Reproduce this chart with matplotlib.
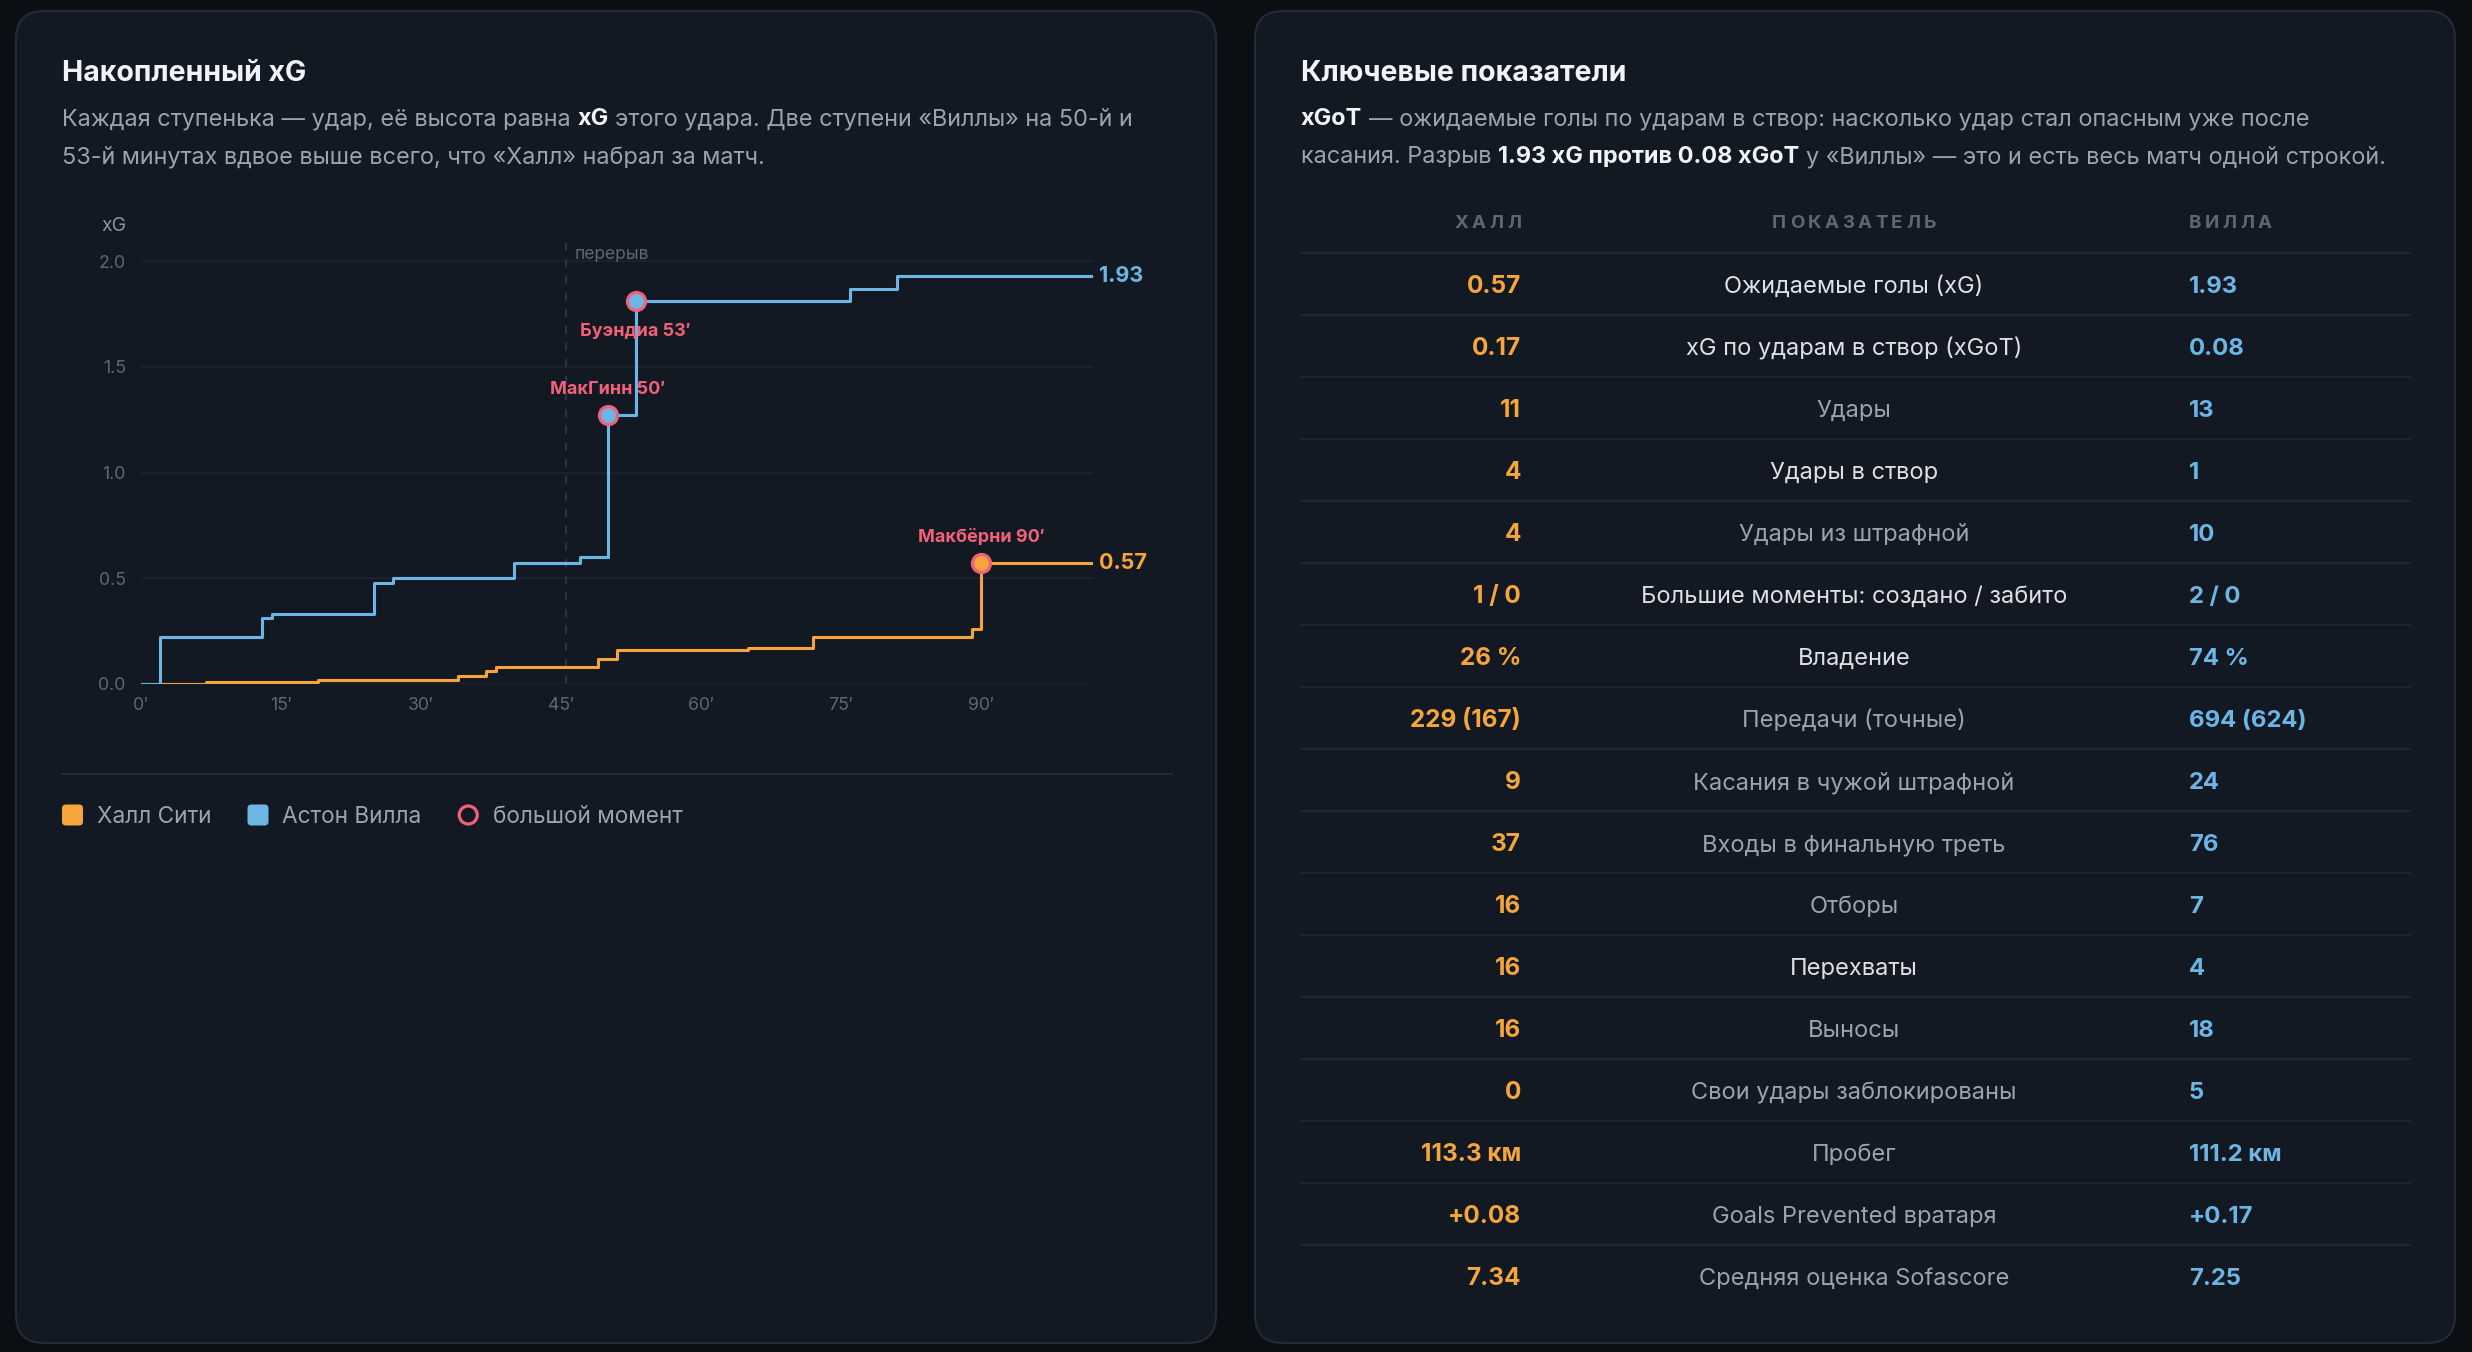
import matplotlib
matplotlib.use("Agg")
import matplotlib.pyplot as plt
from matplotlib.patches import FancyBboxPatch, Circle

plt.rcParams['font.family'] = ['Inter', 'DejaVu Sans']

W, H = 2472, 1352

# Накопленный xG по минутам (значение после удара)
hull_minutes = [0, 7, 19, 34, 37, 38, 49, 51, 65, 72, 89, 90]
hull_xg = [0.0, 0.01, 0.02, 0.04, 0.06, 0.08, 0.12, 0.16, 0.17, 0.22, 0.26, 0.57]
villa_minutes = [0, 2, 13, 14, 25, 27, 40, 47, 50, 53, 76, 81]
villa_xg = [0.0, 0.22, 0.31, 0.33, 0.48, 0.50, 0.57, 0.60, 1.27, 1.81, 1.87, 1.93]
match_end = 102
halftime = 45.5

# большие моменты
chance_labels = ["МакГинн 50′", "Буэндиа 53′", "Макбёрни 90′"]
chance_team = ["villa", "villa", "hull"]
chance_minutes = [50, 53, 90]

minute_ticks = [0, 15, 30, 45, 60, 75, 90]
xg_ticks = [0.0, 0.5, 1.0, 1.5, 2.0]

# Таблица ключевых показателей
metrics = [
    "Ожидаемые голы (xG)", "xG по ударам в створ (xGoT)", "Удары", "Удары в створ",
    "Удары из штрафной", "Большие моменты: создано / забито", "Владение",
    "Передачи (точные)", "Касания в чужой штрафной", "Входы в финальную треть",
    "Отборы", "Перехваты", "Выносы", "Свои удары заблокированы", "Пробег",
    "Goals Prevented вратаря", "Средняя оценка Sofascore",
]
hull_values = ["0.57", "0.17", "11", "4", "4", "1 / 0", "26 %", "229 (167)", "9", "37",
               "16", "16", "16", "0", "113.3 км", "+0.08", "7.34"]
villa_values = ["1.93", "0.08", "13", "1", "10", "2 / 0", "74 %", "694 (624)", "24", "76",
                "7", "4", "18", "5", "111.2 км", "+0.17", "7.25"]
metric_bright = [True, True, False, True, False, True, True, False, False, False,
                 False, True, False, False, False, False, False]

# цвета
BG = "#0b0e13"
CARD = "#131923"
CARD_EDGE = "#242b36"
HULL = "#f5a53a"
VILLA = "#6cb6e6"
PINK = "#f2607a"
TITLE = "#f1f3f6"
SUB = "#9aa3b0"
DIM = "#5f6773"
GRID = "#1e2530"

fig = plt.figure(figsize=(W / 100, H / 100), dpi=100, facecolor=BG)
bg = fig.add_axes([0, 0, 1, 1], zorder=0)
bg.set_xlim(0, W)
bg.set_ylim(H, 0)
bg.axis("off")
renderer = fig.canvas.get_renderer()


def text_width(s, size, weight="normal"):
    t = bg.text(0, 0, s, fontsize=size, fontweight=weight)
    w = t.get_window_extent(renderer).width
    t.remove()
    return w


def rich_line(x, y, parts, size):
    space = text_width("a a", size) - text_width("aa", size)
    for txt, weight, color in parts:
        x += (len(txt) - len(txt.lstrip(" "))) * space
        core = txt.strip(" ")
        if core:
            t = bg.text(x, y, core, fontsize=size, fontweight=weight, color=color,
                        va="baseline", ha="left")
            x += t.get_window_extent(renderer).width
        x += (len(txt) - len(txt.rstrip(" "))) * space
    return x


def spaced(x, y, s, size, color, gap, ha):
    widths = [text_width(ch, size, "bold") for ch in s]
    total = sum(widths) + gap * (len(s) - 1)
    if ha == "right":
        x -= total
    elif ha == "center":
        x -= total / 2
    for ch, w in zip(s, widths):
        bg.text(x, y, ch, fontsize=size, fontweight="bold", color=color, va="baseline")
        x += w + gap


# карточки
for left in (16, 1255):
    bg.add_patch(FancyBboxPatch((left, 11), 1200, 1332,
                                boxstyle="round,pad=0,rounding_size=28",
                                fc=CARD, ec=CARD_EDGE, lw=1.5))

SUB_SIZE = 16.9

# ---------- левая карточка ----------
bg.text(62, 81, "Накопленный xG", fontsize=20.5, fontweight="bold", color=TITLE, va="baseline")
rich_line(62, 125, [("Каждая ступенька — удар, её высота равна ", "normal", SUB),
                    ("xG", "bold", TITLE),
                    (" этого удара. Две ступени «Виллы» на 50-й и", "normal", SUB)], SUB_SIZE)
rich_line(62, 163, [("53-й минутах вдвое выше всего, что «Халл» набрал за матч.", "normal", SUB)],
          SUB_SIZE)

ax = fig.add_axes([141 / W, 1 - 684 / H, (1093 - 141) / W, (684 - 240) / H], zorder=2)
ax.patch.set_alpha(0)
for s in ax.spines.values():
    s.set_visible(False)
ax.set_xlim(0, match_end)
ax.set_ylim(0, 2.1)
ax.set_yticks(xg_ticks)
ax.set_yticklabels([f"{v:.1f}" for v in xg_ticks])
ax.set_xticks(minute_ticks)
ax.set_xticklabels([f"{m}′" for m in minute_ticks])
ax.tick_params(length=0, colors=DIM, labelsize=12.8)
ax.tick_params(axis="y", pad=11)
ax.tick_params(axis="x", pad=9)
ax.grid(axis="y", color=GRID, lw=1.2)
ax.grid(axis="x", visible=False)
ax.set_axisbelow(True)

ax.axvline(halftime, color="#2b323d", lw=1.5, ls=(0, (4, 4)), zorder=1)
ax.text(halftime + 1, 2.03, "перерыв", fontsize=12.5, color=DIM, va="center", ha="left")

ax.step(hull_minutes + [match_end], hull_xg + [hull_xg[-1]], where="post",
        color=HULL, lw=2.2, zorder=3)
ax.step(villa_minutes + [match_end], villa_xg + [villa_xg[-1]], where="post",
        color=VILLA, lw=2.2, zorder=4)

series = {"hull": (hull_minutes, hull_xg, HULL), "villa": (villa_minutes, villa_xg, VILLA)}
label_offsets = [(0, 18.5), (0, -21.5), (0, 18.5)]
for lab, team, m, off in zip(chance_labels, chance_team, chance_minutes, label_offsets):
    mins, vals, col = series[team]
    v = vals[mins.index(m)]
    ax.plot(m, v, "o", ms=13, mfc=col, mec=PINK, mew=2.3, zorder=6)
    ax.annotate(lab, xy=(m, v), xytext=off, textcoords="offset points", ha="center",
                va="center", color=PINK, fontsize=13, fontweight="bold", zorder=7)

for mins, vals, col in series.values():
    ax.annotate(f"{vals[-1]:.2f}", xy=(match_end, vals[-1]), xytext=(4.5, 0),
                textcoords="offset points", ha="left", va="center", color=col,
                fontsize=15.5, fontweight="bold", annotation_clip=False)

bg.text(126, 226, "xG", fontsize=14, color="#8a929e", ha="right", va="center")

# разделитель и легенда
bg.plot([62, 1172], [774, 774], color="#252c37", lw=1.5)
x = 62
for name, col in (("Халл Сити", HULL), ("Астон Вилла", VILLA)):
    bg.add_patch(FancyBboxPatch((x, 804.5), 21, 21, boxstyle="round,pad=0,rounding_size=4",
                                fc=col, ec="none"))
    t = bg.text(x + 35, 823, name, fontsize=16.3, color=SUB, va="baseline")
    x = x + 35 + t.get_window_extent(renderer).width + 36
bg.add_patch(Circle((x + 10.5, 815), 9, fill=False, ec=PINK, lw=2.3))
bg.text(x + 35, 823, "большой момент", fontsize=16.3, color=SUB, va="baseline")

# ---------- правая карточка ----------
bg.text(1301, 81, "Ключевые показатели", fontsize=20.5, fontweight="bold", color=TITLE,
        va="baseline")
rich_line(1301, 125, [("xGoT", "bold", TITLE),
                      (" — ожидаемые голы по ударам в створ: насколько удар стал опасным уже после",
                       "normal", SUB)], SUB_SIZE)
rich_line(1301, 163, [("касания. Разрыв ", "normal", SUB),
                      ("1.93 xG против 0.08 xGoT", "bold", TITLE),
                      (" у «Виллы» — это и есть весь матч одной строкой.", "normal", SUB)], SUB_SIZE)

col_hull, col_metric, col_villa = 1521, 1854, 2189
spaced(col_hull, 228, "ХАЛЛ", 13.5, DIM, 3.5, "right")
spaced(col_metric, 228, "ПОКАЗАТЕЛЬ", 13.5, DIM, 3.5, "center")
spaced(col_villa, 228, "ВИЛЛА", 13.5, DIM, 3.5, "left")

row_h = 62
for i in range(len(metrics)):
    bg.plot([1301, 2410], [253 + i * row_h] * 2, color=GRID, lw=1.6)
    yb = 293 + i * row_h
    bg.text(col_hull, yb, hull_values[i], fontsize=17.5, fontweight="bold", color=HULL,
            ha="right", va="baseline")
    bg.text(col_metric, yb, metrics[i], fontsize=17, color="#dde1e7" if metric_bright[i] else SUB,
            ha="center", va="baseline")
    bg.text(col_villa, yb, villa_values[i], fontsize=17.2, fontweight="bold", color=VILLA,
            ha="left", va="baseline")

fig.savefig("out.png", dpi=100, facecolor=BG)
